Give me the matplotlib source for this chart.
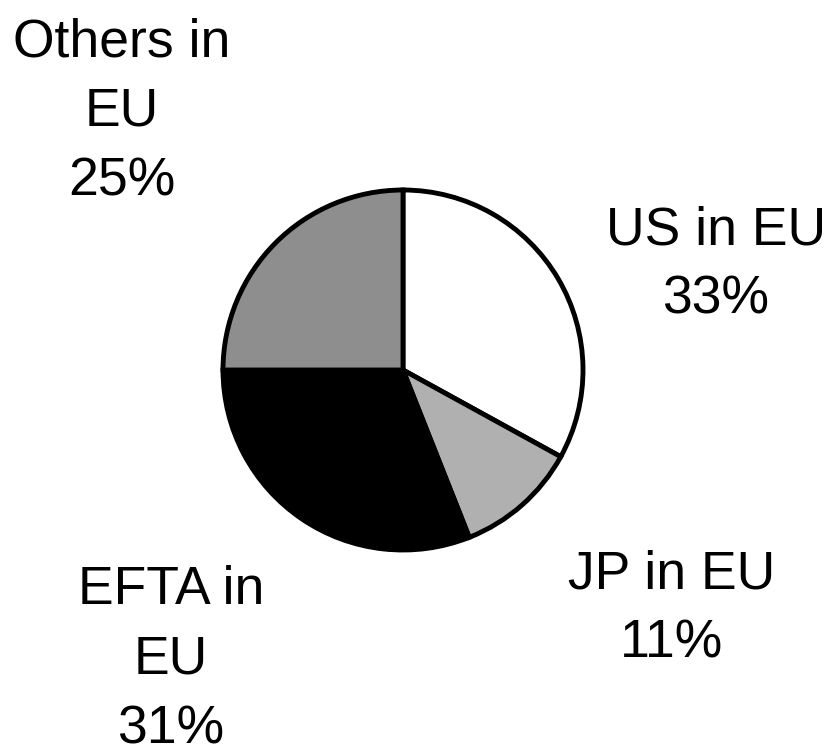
import matplotlib.pyplot as plt

labels = ["US in EU\n33%", "JP in EU\n11%", "EFTA in\nEU\n31%", "Others in\nEU\n25%"]
shares = [33, 11, 31, 25]
colors = ["white", "#b0b0b0", "black", "#8e8e8e"]

# label centres in pixel coordinates (from top-left)
label_pos = [(716, 265), (672, 609), (171, 660), (122, 112)]

W, H = 832, 749
fig = plt.figure(figsize=(W / 100, H / 100), dpi=100)
ax = fig.add_axes([0, 0, 1, 1])

ax.pie(shares, colors=colors, startangle=90, counterclock=False,
       center=(403, H - 370), radius=180, frame=True,
       wedgeprops=dict(edgecolor="black", linewidth=3.5))
ax.set_xlim(0, W)
ax.set_ylim(0, H)
ax.set_aspect("equal")
ax.axis("off")

for lab, (x, y) in zip(labels, label_pos):
    ax.text(x, H - y, lab, ha="center", va="center", multialignment="center",
            fontsize=38.5, family="Liberation Sans", linespacing=1.51)

fig.savefig("out.png", dpi=100)
